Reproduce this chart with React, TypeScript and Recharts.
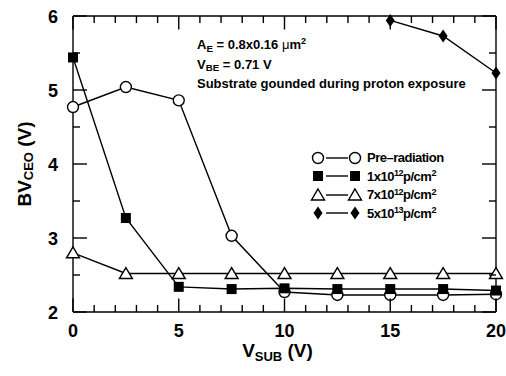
import { ComposedChart, Line, XAxis, YAxis } from "recharts";

// substrate bias sweep (V)
const vSub = [0, 2.5, 5, 7.5, 10, 12.5, 15, 17.5, 20];
// BVCEO (V) per fluence
const preRad = [4.77, 5.04, 4.86, 3.03, 2.27, 2.23, 2.23, 2.23, 2.24];
const f1e12 = [5.44, 3.27, 2.34, 2.31, 2.32, 2.31, 2.31, 2.31, 2.29];
const f7e12 = [2.8, 2.52, 2.52, 2.52, 2.52, 2.52, 2.52, 2.52, 2.52];
const f5e13 = [null, null, null, null, null, null, 5.94, 5.73, 5.23];

const xMajor = [0, 5, 10, 15, 20];
const xMinor = [0, 1, 2, 3, 4, 5, 6, 7, 8, 9, 10, 11, 12, 13, 14, 15, 16, 17, 18, 19, 20];
const yMajor = [2, 3, 4, 5, 6];
const yMinor = [2, 2.5, 3, 3.5, 4, 4.5, 5, 5.5, 6];

const X_DOMAIN: [number, number] = [0, 20];
const Y_DOMAIN: [number, number] = [2, 6];

const data = vSub.map((v, i) => ({
  v,
  pre: preRad[i],
  a: f1e12[i],
  b: f7e12[i],
  c: f5e13[i],
}));

const W = 506;
const H = 376;
const MARGIN = { top: 15, right: 9, bottom: 24, left: 13 };
const X_AXIS_H = 40;
const TOP_AXIS_H = 1;
const Y_AXIS_W = 60;
const RIGHT_AXIS_W = 1;

// plot box that follows from the margins and axis sizes above
const PLOT = {
  left: MARGIN.left + Y_AXIS_W,
  top: MARGIN.top + TOP_AXIS_H,
  right: W - MARGIN.right - RIGHT_AXIS_W,
  bottom: H - MARGIN.bottom - X_AXIS_H,
};
const sx = (v: number) => PLOT.left + ((v - X_DOMAIN[0]) / (X_DOMAIN[1] - X_DOMAIN[0])) * (PLOT.right - PLOT.left);
const sy = (y: number) => PLOT.bottom - ((y - Y_DOMAIN[0]) / (Y_DOMAIN[1] - Y_DOMAIN[0])) * (PLOT.bottom - PLOT.top);

const FONT = '"Liberation Sans", Arial, sans-serif';
const SW = 1.4;
const black = { stroke: "#000", strokeWidth: SW };

type Mark = "circle" | "square" | "triangle" | "diamond";

function Marker({ kind, cx, cy }: { kind: Mark; cx: number; cy: number }) {
  if (kind === "circle")
    return <circle cx={cx} cy={cy} r={5.5} fill="#fff" stroke="#000" strokeWidth={SW} />;
  if (kind === "square")
    return <rect x={cx - 5} y={cy - 5} width={10} height={10} fill="#000" />;
  if (kind === "triangle")
    return (
      <path
        d={`M${cx},${cy - 6} L${cx + 6.5},${cy + 5} L${cx - 6.5},${cy + 5} Z`}
        fill="#fff"
        stroke="#000"
        strokeWidth={SW}
      />
    );
  return (
    <path
      d={`M${cx},${cy - 6.5} L${cx + 4.5},${cy} L${cx},${cy + 6.5} L${cx - 4.5},${cy} Z`}
      fill="#000"
    />
  );
}

const dotFor = (kind: Mark) => (p: any) => {
  const k = `${kind}-${p.index}`;
  if (p.cx == null || p.cy == null || p.value == null) return <g key={k} />;
  return (
    <g key={k}>
      <Marker kind={kind} cx={p.cx} cy={p.cy} />
    </g>
  );
};

// inward frame ticks on all four sides: long on majors, short on minors
function FrameTicks() {
  const lines: React.ReactElement[] = [];
  xMinor.forEach((v) => {
    const len = xMajor.includes(v) ? 13.5 : 7;
    const x = sx(v);
    lines.push(<line key={`b${v}`} x1={x} x2={x} y1={PLOT.bottom} y2={PLOT.bottom - len} />);
    lines.push(<line key={`t${v}`} x1={x} x2={x} y1={PLOT.top} y2={PLOT.top + len} />);
  });
  yMinor.forEach((y) => {
    const len = yMajor.includes(y) ? 14 : 7;
    const yy = sy(y);
    lines.push(<line key={`l${y}`} x1={PLOT.left} x2={PLOT.left + len} y1={yy} y2={yy} />);
    lines.push(<line key={`r${y}`} x1={PLOT.right} x2={PLOT.right - len} y1={yy} y2={yy} />);
  });
  return (
    <svg
      width={W}
      height={H}
      style={{ position: "absolute", left: 0, top: 0, pointerEvents: "none" }}
    >
      <g stroke="#000" strokeWidth={SW}>{lines}</g>
    </svg>
  );
}

const noLabel = () => <g />;

const bottomLabel = ({ x, y, payload }: any) => (
  <text x={x} y={y + 25} textAnchor="middle" fontFamily={FONT} fontWeight="bold" fontSize={18} fill="#000">
    {payload.value}
  </text>
);

const leftLabel = ({ x, y, payload }: any) => (
  <text x={x - 15} y={y + 6.5} textAnchor="end" fontFamily={FONT} fontWeight="bold" fontSize={18} fill="#000">
    {payload.value}
  </text>
);

const legendRows: { kind: Mark; label: React.ReactNode }[] = [
  { kind: "circle", label: "Pre–radiation" },
  { kind: "square", label: <>1x10<sup>12</sup>p/cm<sup>2</sup></> },
  { kind: "triangle", label: <>7x10<sup>12</sup>p/cm<sup>2</sup></> },
  { kind: "diamond", label: <>5x10<sup>13</sup>p/cm<sup>2</sup></> },
];

const supStyle = `sup{font-size:0.7em;vertical-align:0;position:relative;top:-0.5em}sub{font-size:0.75em;vertical-align:0;position:relative;top:0.3em}`;

function LegendBox() {
  return (
    <div
      style={{
        position: "absolute",
        left: 310,
        top: 148.5,
        fontFamily: FONT,
        fontWeight: "bold",
        fontSize: 13,
        letterSpacing: -0.5,
        color: "#000",
        whiteSpace: "nowrap",
      }}
    >
      {legendRows.map((r, i) => (
        <div key={i} style={{ display: "flex", alignItems: "center", height: 18.5 }}>
          <svg width={53} height={16} style={{ marginRight: 4 }}>
            <line x1={16} x2={38} y1={8} y2={8} stroke="#000" strokeWidth={SW} />
            <Marker kind={r.kind} cx={8} cy={8} />
            <Marker kind={r.kind} cx={45} cy={8} />
          </svg>
          <span>{r.label}</span>
        </div>
      ))}
    </div>
  );
}

const series = (key: string, kind: Mark, xId = "b", yId = "l") => (
  <Line
    key={key}
    xAxisId={xId}
    yAxisId={yId}
    dataKey={key}
    stroke="#000"
    strokeWidth={SW}
    dot={dotFor(kind)}
    activeDot={false}
    isAnimationActive={false}
  />
);

export default function App() {
  return (
    <div style={{ position: "absolute", left: 0, top: 0, width: W, height: H, background: "#fff" }}>
      <style>{supStyle}</style>
      <ComposedChart width={W} height={H} data={data} margin={MARGIN}>
        <XAxis
          xAxisId="b"
          dataKey="v"
          type="number"
          domain={X_DOMAIN}
          ticks={xMajor}
          interval={0}
          height={X_AXIS_H}
          tickSize={0}
          tickMargin={0}
          tickLine={false}
          axisLine={black}
          tick={bottomLabel}
          label={{
            content: ({ viewBox }: any) => (
              <text
                x={viewBox.x + viewBox.width / 2 - 7}
                y={viewBox.y + 45}
                textAnchor="middle"
                fontFamily={FONT}
                fontWeight="bold"
                fontSize={19}
                fill="#000"
              >
                V<tspan fontSize={13} dy={4}>SUB</tspan>
                <tspan dy={-4}> (V)</tspan>
              </text>
            ),
          }}
        />
        <XAxis xAxisId="t" orientation="top" dataKey="v" type="number" domain={X_DOMAIN} ticks={xMajor} interval={0}
          height={TOP_AXIS_H} tickSize={0} tickLine={false} axisLine={black} tick={noLabel} />
        <YAxis
          yAxisId="l"
          type="number"
          domain={Y_DOMAIN}
          ticks={yMajor}
          interval={0}
          width={Y_AXIS_W}
          tickSize={0}
          tickMargin={0}
          tickLine={false}
          axisLine={black}
          tick={leftLabel}
          label={{
            content: ({ viewBox }: any) => {
              const cx = viewBox.x + 11;
              const cy = viewBox.y + viewBox.height / 2;
              return (
                <text
                  x={cx}
                  y={cy}
                  transform={`rotate(-90, ${cx}, ${cy})`}
                  textAnchor="middle"
                  dominantBaseline="central"
                  fontFamily={FONT}
                  fontWeight="bold"
                  fontSize={19}
                  fill="#000"
                >
                  BV<tspan fontSize={13} dy={4}>CEO</tspan>
                  <tspan dy={-4}> (V)</tspan>
                </text>
              );
            },
          }}
        />
        <YAxis yAxisId="r" orientation="right" type="number" domain={Y_DOMAIN} ticks={yMajor} interval={0}
          width={RIGHT_AXIS_W} tickSize={0} tickLine={false} axisLine={black} tick={noLabel} />

        {series("pre", "circle")}
        {series("b", "triangle")}
        {series("a", "square")}
        {/* top/right axes share the bottom/left domains; binding a series keeps them drawn */}
        {series("c", "diamond", "t", "r")}
      </ComposedChart>
      <FrameTicks />
      <LegendBox />
      <div
        style={{
          position: "absolute",
          left: 197,
          top: 36,
          fontFamily: FONT,
          fontWeight: "bold",
          fontSize: 13,
          lineHeight: "18.5px",
          color: "#000",
          whiteSpace: "nowrap",
        }}
      >
        <div>
          A<sub>E</sub> = 0.8x0.16 <span style={{ fontWeight: "normal" }}>μ</span>m<sup>2</sup>
        </div>
        <div>
          V<sub>BE</sub> = 0.71 V
        </div>
        <div>Substrate gounded during proton exposure</div>
      </div>
    </div>
  );
}
